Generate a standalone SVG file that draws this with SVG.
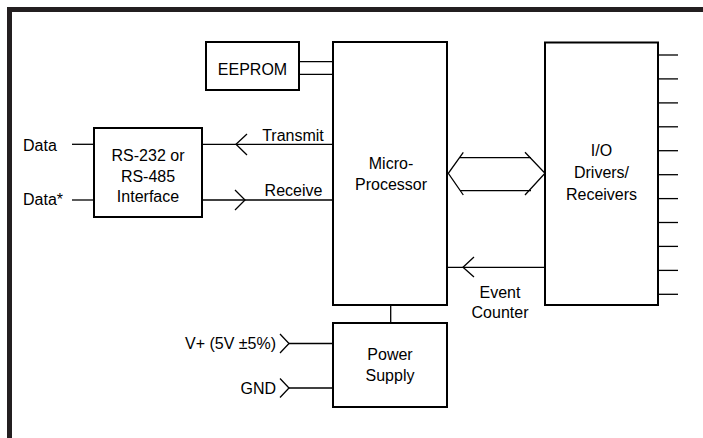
<svg xmlns="http://www.w3.org/2000/svg" width="703" height="438" viewBox="0 0 703 438">
<style>
.box{fill:#fff;stroke:#000;stroke-width:2}
.ln{fill:none;stroke:#000;stroke-width:1.3}
.t{font-family:"Liberation Sans",Arial,sans-serif;font-size:16px;fill:#000;text-anchor:middle}
.s{text-anchor:start}
.e{text-anchor:end}
</style>
<rect x="0" y="0" width="703" height="438" fill="#fff"/>
<rect x="9.5" y="9.5" width="800" height="500" fill="none" stroke="#231f20" stroke-width="5"/>
<g id="connectors">
<line class="ln" x1="299" y1="61.7" x2="333" y2="61.7"/>
<line class="ln" x1="299" y1="74.3" x2="333" y2="74.3"/>
<line class="ln" x1="72" y1="144.3" x2="94" y2="144.3"/>
<line class="ln" x1="72" y1="200" x2="94" y2="200"/>
<line class="ln" x1="202" y1="144.3" x2="333" y2="144.3"/>
<polyline class="ln" points="247,134 236,144.3 247,155"/>
<line class="ln" x1="202" y1="200" x2="333" y2="200"/>
<polyline class="ln" points="235,190 245,200 235,210"/>
<line class="ln" x1="460" y1="157.7" x2="531" y2="157.7"/>
<line class="ln" x1="460" y1="190.7" x2="531" y2="190.7"/>
<polyline class="ln" points="463.3,152.3 448.3,173.3 463.3,195"/>
<polyline class="ln" points="525,152.3 545,173.3 525,195"/>
<line class="ln" x1="447" y1="267.3" x2="545" y2="267.3"/>
<polyline class="ln" points="474,257 463,267.3 474,277"/>
<line class="ln" x1="390.7" y1="305" x2="390.7" y2="323"/>
<line class="ln" x1="289" y1="343.5" x2="333" y2="343.5"/>
<polyline class="ln" points="280,334 289,343.5 280,353"/>
<line class="ln" x1="289" y1="388" x2="333" y2="388"/>
<polyline class="ln" points="280,378.5 289,388 280,397.5"/>
<g id="pins">
<line class="ln" x1="658" y1="55" x2="678" y2="55"/>
<line class="ln" x1="658" y1="78.9" x2="678" y2="78.9"/>
<line class="ln" x1="658" y1="102.9" x2="678" y2="102.9"/>
<line class="ln" x1="658" y1="126.8" x2="678" y2="126.8"/>
<line class="ln" x1="658" y1="150.7" x2="678" y2="150.7"/>
<line class="ln" x1="658" y1="174.7" x2="678" y2="174.7"/>
<line class="ln" x1="658" y1="198.6" x2="678" y2="198.6"/>
<line class="ln" x1="658" y1="222.5" x2="678" y2="222.5"/>
<line class="ln" x1="658" y1="246.4" x2="678" y2="246.4"/>
<line class="ln" x1="658" y1="270.4" x2="678" y2="270.4"/>
<line class="ln" x1="658" y1="294.3" x2="678" y2="294.3"/>
</g>
</g>
<g id="eeprom">
<rect class="box" x="206" y="42" width="93" height="48"/>
<text class="t" x="252.5" y="75">EEPROM</text>
</g>
<g id="micro">
<rect class="box" x="333" y="42" width="114" height="263"/>
<text class="t" x="391" y="168.5">Micro-</text>
<text class="t" x="391" y="190">Processor</text>
</g>
<g id="io">
<rect class="box" x="545" y="42.5" width="113" height="262.5"/>
<text class="t" x="601.5" y="156">I/O</text>
<text class="t" x="601.5" y="178">Drivers/</text>
<text class="t" x="601.5" y="199.5">Receivers</text>
</g>
<g id="rs">
<rect class="box" x="94" y="128" width="108" height="89"/>
<text class="t" x="148" y="161">RS-232 or</text>
<text class="t" x="148" y="181.5">RS-485</text>
<text class="t" x="148" y="202">Interface</text>
</g>
<g id="power">
<rect class="box" x="333" y="323" width="114" height="84"/>
<text class="t" x="390" y="360">Power</text>
<text class="t" x="390" y="381">Supply</text>
</g>
<g id="labels">
<text class="t s" x="23" y="150.5">Data</text>
<text class="t s" x="23" y="205">Data*</text>
<text class="t" x="293" y="140.5">Transmit</text>
<text class="t" x="293.5" y="195.5">Receive</text>
<text class="t" x="500" y="297.5">Event</text>
<text class="t" x="500" y="318">Counter</text>
<text class="t e" x="276" y="349">V+ (5V ±5%)</text>
<text class="t e" x="276" y="393.5">GND</text>
</g>
</svg>
